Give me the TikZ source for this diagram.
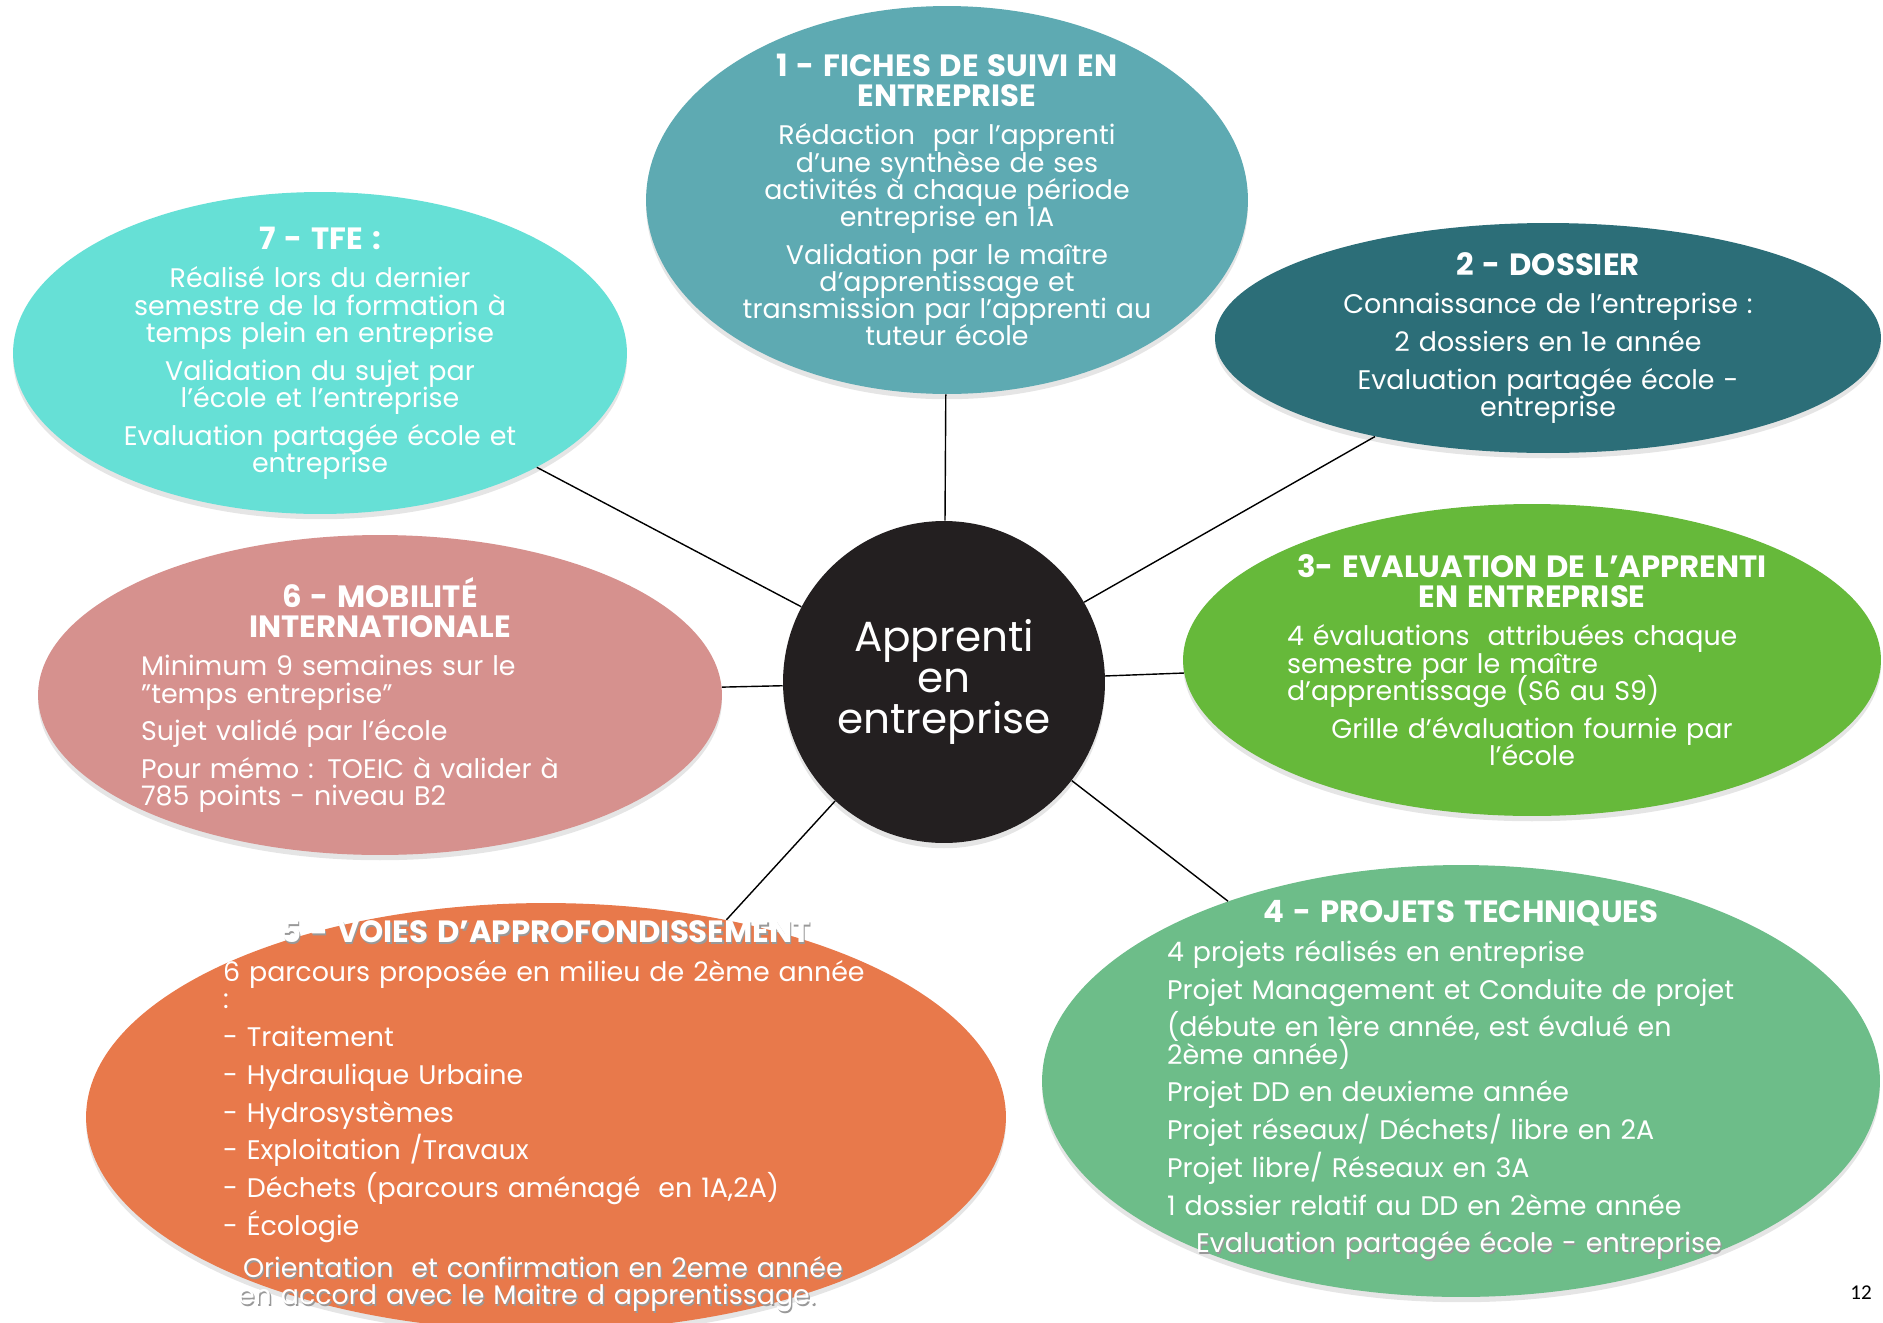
\documentclass[tikz,border=0pt]{standalone}
\usepackage{fontspec}
\setmainfont{Poppins}
\newfontfamily\numfont{Carlito}
\usetikzlibrary{shapes.geometric,shadows}

\definecolor{fichebleu}{HTML}{5EAAB2}
\definecolor{dossierbleu}{HTML}{2C6E78}
\definecolor{evalvert}{HTML}{66B93A}
\definecolor{projvert}{HTML}{6DBD89}
\definecolor{voiesorange}{HTML}{E8794B}
\definecolor{mobilrose}{HTML}{D6918E}
\definecolor{tfecyan}{HTML}{66E0D6}
\definecolor{noyau}{HTML}{231F20}

\newcommand{\corps}{\fontsize{15.3}{15.5}\selectfont}
\newcommand{\titre}[1]{{\centering\lineskiplimit=-20pt\fontsize{17.5}{17}\selectfont\bfseries #1\par}\vspace{6.5pt}}
\newcommand{\centre}[1]{{\centering\lineskiplimit=-20pt #1\par}}
\newcommand{\gauche}[1]{{\raggedright\lineskiplimit=-20pt #1\par}}
\newcommand{\ecart}{\vspace{6pt}}
\newcommand{\ombre}[1]{\rlap{\hspace{0.8pt}\raisebox{-0.8pt}{\color{black!40}#1}}#1}

\tikzset{
  bulle/.style={ellipse, inner sep=0pt,
    drop shadow={opacity=0.2, shadow xshift=0pt, shadow yshift=-3pt}},
  texte/.style={text=white, font=\corps, inner sep=0pt},
  lien/.style={line width=0.8pt, black},
}

\begin{document}
\begin{tikzpicture}[x=0.02cm, y=-0.02cm]
  \fill[white] (0,0) rectangle (1883,1322);
  \useasboundingbox (0,0) rectangle (1883,1322);

  % bulles
  \node[bulle, fill=fichebleu, minimum width=12.04cm, minimum height=7.76cm] (fiche) at (947,200) {};
  \node[bulle, fill=dossierbleu, minimum width=13.32cm, minimum height=4.6cm] (dossier) at (1548,338) {};
  \node[bulle, fill=evalvert, minimum width=13.96cm, minimum height=6.24cm] (evaluation) at (1532,660) {};
  \node[bulle, fill=projvert, minimum width=16.76cm, minimum height=8.64cm] (projets) at (1461,1081) {};
  \node[bulle, fill=voiesorange, minimum width=18.4cm, minimum height=8.56cm] (voies) at (546,1117) {};
  \node[bulle, fill=mobilrose, minimum width=13.68cm, minimum height=6.4cm] (mobilite) at (380,695) {};
  \node[bulle, fill=tfecyan, minimum width=12.28cm, minimum height=6.44cm] (tfe) at (320,353) {};

  \node[circle, fill=noyau, minimum size=6.44cm, inner sep=0pt, align=center,
        text=white, font=\fontsize{24}{23.5}\selectfont,
        drop shadow={opacity=0.2, shadow xshift=0pt, shadow yshift=-3pt}]
        (apprenti) at (944,682) {Apprenti\\en\\entreprise};

  \foreach \cible in {fiche, dossier, evaluation, projets, voies, mobilite, tfe}
    \draw[lien] (apprenti) -- (\cible);

  % textes
  \node[texte, text width=9.6cm] (fiche-txt) at (fiche) {%
    \titre{1 - FICHES DE SUIVI EN\\ENTREPRISE}
    \centre{Rédaction \ par l’apprenti\\d’une synthèse de ses\\activités à chaque période\\entreprise en 1A}\ecart
    \centre{Validation par le maître\\d’apprentissage et\\transmission par l’apprenti au\\tuteur école}};

  \node[texte, text width=9.2cm] (dossier-txt) at (dossier) {%
    \titre{2 - DOSSIER}
    \centre{Connaissance de l’entreprise :}\ecart
    \centre{2 dossiers en 1e année}\ecart
    \centre{Evaluation partagée école -\\entreprise}};

  \node[texte, text width=9.8cm] (evaluation-txt) at (evaluation) {%
    \titre{3- EVALUATION DE L’APPRENTI\\EN ENTREPRISE}
    \gauche{4 évaluations \ attribuées chaque\\semestre par le maître\\d’apprentissage (S6 au S9)}\ecart
    \centre{Grille d’évaluation fournie par\\l’école}};

  \node[texte, text width=11.76cm] (projets-txt) at (projets) {%
    \titre{4 - PROJETS TECHNIQUES}
    \gauche{4 projets réalisés en entreprise}\ecart
    \gauche{\mbox{Projet Management et Conduite de projet}}\ecart
    \gauche{(débute en 1ère année, est évalué en\\2ème année)}\ecart
    \gauche{Projet DD en deuxieme année}\ecart
    \gauche{Projet réseaux/ Déchets/ libre en 2A}\ecart
    \gauche{Projet libre/ Réseaux en 3A}\ecart
    \gauche{1 dossier relatif au DD en 2ème année}\ecart
    \gauche{\hspace*{0.58cm}\ombre{Evaluation partagée école - entreprise}}};

  \node[texte, text width=12.92cm] (voies-txt) at (voies) {%
    \titre{\ombre{5 - VOIES D'APPROFONDISSEMENT}}
    \gauche{\mbox{6 parcours proposée en milieu de 2ème année}\\:}\ecart
    \gauche{- Traitement}\ecart
    \gauche{- Hydraulique Urbaine}\ecart
    \gauche{- Hydrosystèmes}\ecart
    \gauche{- Exploitation /Travaux}\ecart
    \gauche{- Déchets (parcours aménagé \ en 1A,2A)}\ecart
    \gauche{- Écologie}\vspace{8.5pt}
    \gauche{\hspace*{0.4cm}\ombre{Orientation \ et confirmation en 2eme année}\\
            \hspace*{0.3cm}\ombre{en accord avec le Maitre d apprentissage.}}};

  \node[texte, text width=9.56cm] (mobilite-txt) at (mobilite) {%
    \titre{6 - MOBILITÉ\\INTERNATIONALE}
    \gauche{Minimum 9 semaines sur le\\"temps entreprise"}\ecart
    \gauche{Sujet validé par l'école}\ecart
    \gauche{Pour mémo : TOEIC à valider à\\785 points - niveau B2}};

  \node[texte, text width=9.6cm] (tfe-txt) at (tfe) {%
    \titre{7 - TFE :}
    \centre{Réalisé lors du dernier\\semestre de la formation à\\temps plein en entreprise}\ecart
    \centre{Validation du sujet par\\l’école et l’entreprise}\ecart
    \centre{Evaluation partagée école et\\entreprise}};

  \node[font=\numfont\fontsize{12}{14}\selectfont] (page) at (1861,1293) {12};
\end{tikzpicture}
\end{document}
